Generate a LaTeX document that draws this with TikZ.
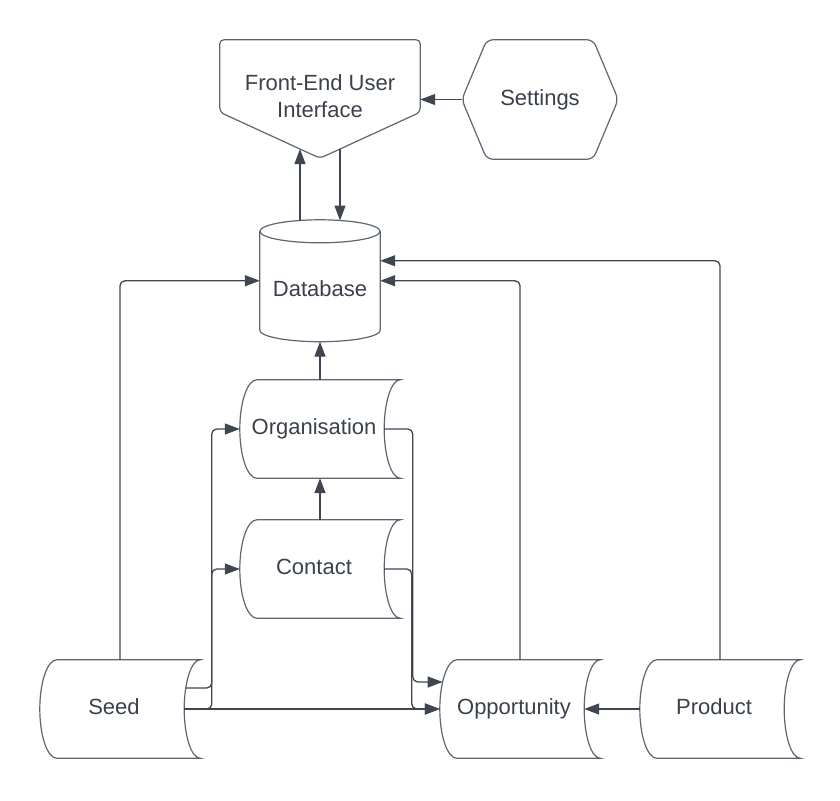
\documentclass[tikz,border=0pt]{standalone}
\usepackage{fontspec}
\setmainfont{Liberation Sans}
\usetikzlibrary{arrows.meta,calc}
\definecolor{ink}{HTML}{3A414B}
\definecolor{edgegray}{HTML}{5E6572}
\definecolor{wiregray}{HTML}{3F4650}

\begin{document}
\begin{tikzpicture}[x=1pt,y=-1pt,
  font=\fontsize{22}{26.5}\selectfont, text=ink,
  outline/.style={draw=edgegray,line width=1.2pt},
  sdbox/.style={minimum width=160pt,minimum height=98pt,inner sep=0pt,
    text height=16pt,text depth=6pt},
  plainbox/.style={inner sep=0pt},
  wire/.style={draw=wiregray,line width=1.3pt,rounded corners=5pt,
    -{Triangle[length=15pt,width=11pt]}}]
\useasboundingbox (0,0) rectangle (840,800);

% stored-data nodes (text set slightly left of the shape centre)
\node[sdbox] (seed)    at (120,709) {Seed\kern12pt};
\node[sdbox] (opp)     at (520,709) {Opportunity\kern12pt};
\node[sdbox] (prod)    at (720,709) {Product\kern12pt};
\node[sdbox] (org)     at (320,429) {Organisation\kern12pt};
\node[sdbox] (contact) at (320,569) {Contact\kern12pt};

% stored-data outlines: convex left side, concave right side
\foreach \n in {seed,opp,prod,org,contact}{
  \draw[outline] ($(\n.north west)+(17,0)$) -- (\n.north east)
    .. controls +(-8.8,0) and +(0,-27) .. ($(\n.east)+(-16,0)$)
    .. controls +(0,27) and +(-8.8,0) .. (\n.south east)
    -- ($(\n.south west)+(17,0)$)
    .. controls +(-9.4,0) and +(0,27) .. (\n.west)
    .. controls +(0,-27) and +(-9.4,0) .. ($(\n.north west)+(17,0)$) -- cycle;
}

% database cylinder
\node[plainbox,minimum width=120pt,minimum height=121.5pt] (db) at (320,280.75) {};
\draw[outline] ($(db.north)+(0,11.5)$) ellipse [x radius=60, y radius=11.5];
\draw[outline] ($(db.north west)+(0,11.5)$) -- ($(db.south west)+(0,-11.5)$)
  .. controls +(0,6.35) and +(-33.1,0) .. (db.south)
  .. controls +(33.1,0) and +(0,6.35) .. ($(db.south east)+(0,-11.5)$)
  -- ($(db.north east)+(0,11.5)$);
\node[plainbox] (dbtext) at (320,289) {Database};

% front-end interface (off-page connector shape)
\node[plainbox,minimum width=200pt,minimum height=118pt] (fe) at (320,99) {};
\draw[outline,rounded corners=4pt] (fe.north west) -- (fe.north east)
  -- ($(fe.south east)+(0,-46)$) -- (fe.south) -- ($(fe.south west)+(0,-46)$) -- cycle;
\node[plainbox,align=center] (fetext) at (320,96) {Front-End User\\Interface};

% settings hexagon
\node[plainbox,minimum width=156pt,minimum height=119pt] (set) at (540,99.5) {Settings};
\draw[outline,rounded corners=6pt] (set.west) -- ($(set.north west)+(25,0)$)
  -- ($(set.north east)+(-25,0)$) -- (set.east) -- ($(set.south east)+(-25,0)$)
  -- ($(set.south west)+(25,0)$) -- cycle;

% connectors
\draw[wire] (set.west) -- (set.west -| fe.east);
\draw[wire] ($(db.north)+(-20,0.7)$) -- ($(fe.south)+(-20,-9.2)$);
\draw[wire] ($(fe.south)+(20,-9.2)$) -- ($(db.north)+(20,0.7)$);

\draw[wire] (seed.north) |- (db.west);
\draw[wire] (opp.north) |- (db.east);
\draw[wire] (prod.north) |- ($(db.east)+(0,-20)$);
\draw[wire] (org.north) -- (db.south);
\draw[wire] (contact.north) -- (org.south);

\draw[wire] ($(seed.east)+(-14.5,-21)$) -| ($(contact.west)+(-28,0)$) -- (contact.west);
\draw[wire] ($(seed.east)+(-16,0)$) -| ($(org.west)+(-28,0)$) -- (org.west);
\draw[wire] ($(seed.east)+(-16,0)$) -- (opp.west);

\draw[wire] ($(org.east)+(-16,0)$) -| ($(opp.west)+(-27,-27)$) -- ($(opp.west)+(2.8,-27)$);
\draw[wire] ($(contact.east)+(-16,0)$) -| ($(opp.west)+(-28,0)$) -- (opp.west);
\draw[wire] (prod.west) -- ($(opp.east)+(-16,0)$);
\end{tikzpicture}
\end{document}
